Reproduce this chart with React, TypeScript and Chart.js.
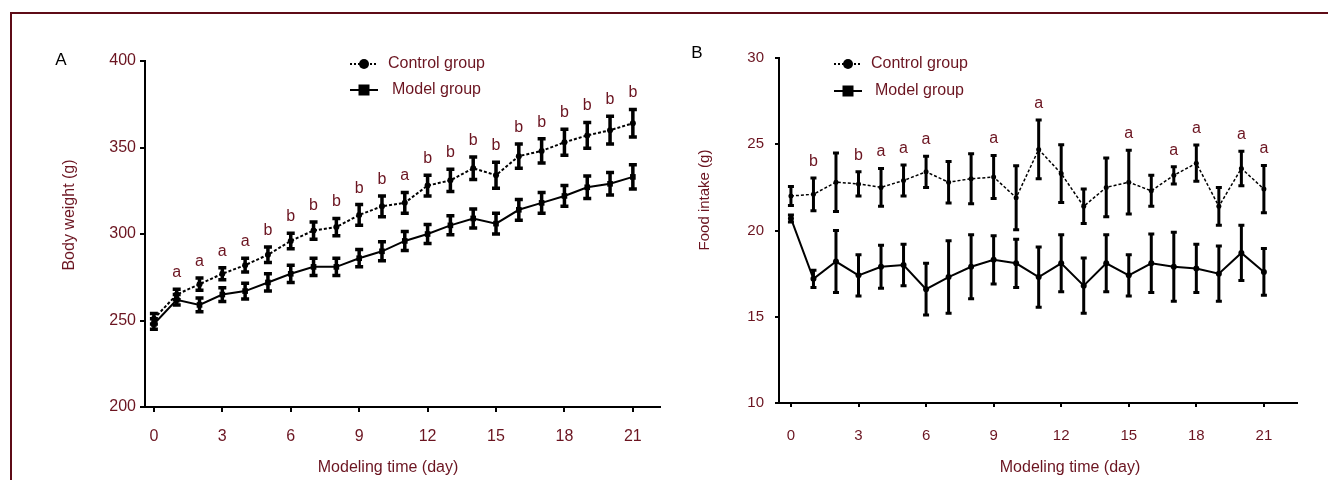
import React, { useEffect, useRef } from "react";
import { Chart, registerables } from "chart.js";

Chart.register(...registerables);

const MAROON = "#6b1420";
const FONT = "'Liberation Sans', Arial, sans-serif";

// ---------- data ----------
const days = [0, 1, 2, 3, 4, 5, 6, 7, 8, 9, 10, 11, 12, 13, 14, 15, 16, 17, 18, 19, 20, 21];
const dayTicks = [0, 3, 6, 9, 12, 15, 18, 21];

const weightTicks = [200, 250, 300, 350, 400];
const weightControl = [251, 265, 271, 277, 282, 288, 296, 302, 304, 311, 316, 318, 328, 331, 338, 334, 345, 348, 353, 357, 360, 364];
const weightControlErr = [3, 3, 3.5, 3.5, 4, 4.5, 4.5, 5, 5, 6, 6, 6, 6, 6.5, 6.5, 7.5, 7, 7, 7.5, 7.5, 8, 8];
const weightModel = [248, 262, 259, 265, 267, 272, 277, 281, 281, 286, 290, 296, 300, 305, 309, 306, 314, 318, 322, 327, 329, 333];
const weightModelErr = [3, 3, 4, 4, 4.5, 5, 5, 5, 5, 5, 5.5, 5.5, 5.5, 5.5, 5.5, 6, 6, 6, 6, 6.5, 6.5, 7];
const weightLetters = ["", "a", "a", "a", "a", "b", "b", "b", "b", "b", "b", "a", "b", "b", "b", "b", "b", "b", "b", "b", "b", "b"];

const intakeTicks = [10, 15, 20, 25, 30];
const intakeControl = [22.0, 22.1, 22.8, 22.7, 22.5, 22.9, 23.4, 22.8, 23.0, 23.1, 21.9, 24.7, 23.3, 21.4, 22.5, 22.8, 22.3, 23.2, 23.9, 21.4, 23.6, 22.4];
const intakeControlErr = [0.55, 0.95, 1.7, 0.7, 1.1, 0.9, 0.9, 1.2, 1.45, 1.25, 1.85, 1.7, 1.67, 1.0, 1.7, 1.85, 0.9, 0.5, 1.05, 1.1, 1.0, 1.37];
const intakeModel = [20.7, 17.2, 18.2, 17.4, 17.9, 18.0, 16.6, 17.3, 17.9, 18.3, 18.1, 17.3, 18.1, 16.8, 18.1, 17.4, 18.1, 17.9, 17.8, 17.5, 18.7, 17.6];
const intakeModelErr = [0.2, 0.5, 1.8, 1.2, 1.25, 1.2, 1.5, 2.1, 1.85, 1.4, 1.4, 1.75, 1.65, 1.6, 1.65, 1.2, 1.7, 2.0, 1.4, 1.6, 1.6, 1.35];
const intakeLetters = ["", "b", "", "b", "a", "a", "a", "", "", "a", "", "a", "", "", "", "a", "", "a", "a", "", "a", "a"];

const legendLabels = ["Control group", "Model group"];

type Panel = {
  width: number;
  height: number;
  left: number;
  panelLabel: string;
  yTitle: string;
  xTitle: string;
  control: number[];
  controlErr: number[];
  model: number[];
  modelErr: number[];
  letters: string[];
  yTicks: number[];
  xMin: number;
  xMax: number;
  pad: { left: number; top: number; right: number; bottom: number };
  yWidth: number;
  xHeight: number;
  tickFont: number;
  yTickPad: number;
  xTickPad: number;
  tickLen: number;
  controlPoint: number;
  modelPoint: number;
  modelStyle: string;
  dashWidth: number;
  cap: number;
  barWidth: number;
  yTitleSize: number;
  labelPos: [number, number];
  yTitlePos: [number, number];
  xTitlePos: [number, number];
  legendMarkerX: number;
  legendY: [number, number];
  legendTextX: [number, number];
};

function makePlugin(p: Panel) {
  return {
    id: "extras",
    afterDatasetsDraw(chart: any) {
      const ctx = chart.ctx;
      const xs = chart.scales.x;
      const ys = chart.scales.y;
      ctx.save();
      const series: [number[], number[]][] = [
        [p.model, p.modelErr],
        [p.control, p.controlErr],
      ];
      ctx.strokeStyle = "#000";
      ctx.lineWidth = p.barWidth;
      ctx.setLineDash([]);
      series.forEach(([vals, errs]) => {
        vals.forEach((v, i) => {
          const x = xs.getPixelForValue(days[i]);
          const t = ys.getPixelForValue(v + errs[i]);
          const b = ys.getPixelForValue(v - errs[i]);
          ctx.beginPath();
          ctx.moveTo(x, t);
          ctx.lineTo(x, b);
          ctx.moveTo(x - p.cap, t);
          ctx.lineTo(x + p.cap, t);
          ctx.moveTo(x - p.cap, b);
          ctx.lineTo(x + p.cap, b);
          ctx.stroke();
        });
      });
      ctx.fillStyle = MAROON;
      ctx.font = `16px ${FONT}`;
      ctx.textAlign = "center";
      ctx.textBaseline = "alphabetic";
      p.letters.forEach((L, i) => {
        if (!L) return;
        const x = xs.getPixelForValue(days[i]);
        const t = ys.getPixelForValue(p.control[i] + p.controlErr[i]);
        ctx.fillText(L, x, t - 12);
      });
      ctx.restore();
    },
    afterDraw(chart: any) {
      const ctx = chart.ctx;
      ctx.save();
      ctx.fillStyle = "#000";
      ctx.font = `17px ${FONT}`;
      ctx.textAlign = "center";
      ctx.textBaseline = "middle";
      ctx.fillText(p.panelLabel, p.labelPos[0], p.labelPos[1]);
      ctx.fillStyle = MAROON;
      ctx.font = `16px ${FONT}`;
      ctx.fillText(p.xTitle, p.xTitlePos[0], p.xTitlePos[1]);
      ctx.save();
      ctx.font = `${p.yTitleSize}px ${FONT}`;
      ctx.translate(p.yTitlePos[0], p.yTitlePos[1]);
      ctx.rotate(-Math.PI / 2);
      ctx.fillText(p.yTitle, 0, 0);
      ctx.restore();
      const mx = p.legendMarkerX;
      ctx.strokeStyle = "#000";
      ctx.fillStyle = "#000";
      ctx.lineWidth = 2;
      ctx.setLineDash([2, 2]);
      ctx.beginPath();
      ctx.moveTo(mx - 14, p.legendY[0]);
      ctx.lineTo(mx + 14, p.legendY[0]);
      ctx.stroke();
      ctx.setLineDash([]);
      ctx.beginPath();
      ctx.arc(mx, p.legendY[0], 5, 0, Math.PI * 2);
      ctx.fill();
      ctx.beginPath();
      ctx.moveTo(mx - 14, p.legendY[1]);
      ctx.lineTo(mx + 14, p.legendY[1]);
      ctx.stroke();
      ctx.fillRect(mx - 5.5, p.legendY[1] - 5.5, 11, 11);
      ctx.fillStyle = MAROON;
      ctx.font = `16px ${FONT}`;
      ctx.textAlign = "left";
      ctx.fillText(legendLabels[0], p.legendTextX[0], p.legendY[0]);
      ctx.fillText(legendLabels[1], p.legendTextX[1], p.legendY[1]);
      ctx.restore();
    },
  };
}

function PanelChart({ p }: { p: Panel }) {
  const ref = useRef<HTMLCanvasElement | null>(null);
  useEffect(() => {
    if (!ref.current) return;
    const chart = new Chart(ref.current, {
      type: "line",
      data: {
        datasets: [
          {
            label: legendLabels[1],
            data: p.model.map((v, i) => ({ x: days[i], y: v })),
            borderColor: "#000",
            backgroundColor: "#000",
            borderWidth: 2,
            pointStyle: p.modelStyle as any,
            pointRadius: p.modelPoint,
            pointBorderWidth: 0,
          },
          {
            label: legendLabels[0],
            data: p.control.map((v, i) => ({ x: days[i], y: v })),
            borderColor: "#000",
            backgroundColor: "#000",
            borderWidth: p.dashWidth,
            borderDash: [3, 2],
            pointStyle: "circle",
            pointRadius: p.controlPoint,
            pointBorderWidth: 0,
          },
        ],
      },
      options: {
        responsive: false,
        animation: false,
        events: [],
        layout: { padding: p.pad },
        plugins: { legend: { display: false }, tooltip: { enabled: false }, title: { display: false } },
        scales: {
          x: {
            type: "linear",
            min: p.xMin,
            max: p.xMax,
            afterBuildTicks: (s: any) => {
              s.ticks = dayTicks.map((v) => ({ value: v }));
            },
            afterFit: (s: any) => {
              s.height = p.xHeight;
            },
            grid: { drawOnChartArea: false, drawTicks: true, tickLength: p.tickLen, color: "#000", lineWidth: 2 },
            border: { display: true, color: "#000", width: 2 },
            ticks: { color: MAROON, padding: p.xTickPad, font: { size: p.tickFont, family: FONT }, maxRotation: 0, autoSkip: false },
          },
          y: {
            type: "linear",
            min: p.yTicks[0],
            max: p.yTicks[p.yTicks.length - 1],
            afterBuildTicks: (s: any) => {
              s.ticks = p.yTicks.map((v) => ({ value: v }));
            },
            afterFit: (s: any) => {
              s.width = p.yWidth;
            },
            grid: { drawOnChartArea: false, drawTicks: true, tickLength: p.tickLen, color: "#000", lineWidth: 2 },
            border: { display: true, color: "#000", width: 2 },
            ticks: { color: MAROON, padding: p.yTickPad, font: { size: p.tickFont, family: FONT }, autoSkip: false },
          },
        },
      },
      plugins: [makePlugin(p)],
    });
    return () => chart.destroy();
  }, [p]);
  return (
    <canvas
      ref={ref}
      width={p.width}
      height={p.height}
      style={{ position: "absolute", left: p.left, top: 0, width: p.width, height: p.height }}
    />
  );
}

const panelA: Panel = {
  width: 670,
  height: 480,
  left: 0,
  panelLabel: "A",
  yTitle: "Body weight (g)",
  xTitle: "Modeling time (day)",
  control: weightControl,
  controlErr: weightControlErr,
  model: weightModel,
  modelErr: weightModelErr,
  letters: weightLetters,
  yTicks: weightTicks,
  xMin: -0.39,
  xMax: 22.19,
  pad: { left: 0, top: 61, right: 10, bottom: 0 },
  yWidth: 145,
  xHeight: 73,
  tickFont: 16,
  yTickPad: 4,
  xTickPad: 15,
  tickLen: 5,
  controlPoint: 3,
  modelPoint: 4,
  modelStyle: "rect",
  dashWidth: 2,
  cap: 4,
  barWidth: 3.5,
  yTitleSize: 16,
  labelPos: [61, 60],
  yTitlePos: [70, 215],
  xTitlePos: [388, 468],
  legendMarkerX: 364,
  legendY: [64, 90],
  legendTextX: [388, 392],
};

const panelB: Panel = {
  width: 658,
  height: 480,
  left: 670,
  panelLabel: "B",
  yTitle: "Food intake (g)",
  xTitle: "Modeling time (day)",
  control: intakeControl,
  controlErr: intakeControlErr,
  model: intakeModel,
  modelErr: intakeModelErr,
  letters: intakeLetters,
  yTicks: intakeTicks,
  xMin: -0.53,
  xMax: 22.47,
  pad: { left: 0, top: 58, right: 31, bottom: 0 },
  yWidth: 109,
  xHeight: 77,
  tickFont: 15,
  yTickPad: 11,
  xTickPad: 20,
  tickLen: 4,
  controlPoint: 2.5,
  modelPoint: 3,
  modelStyle: "circle",
  dashWidth: 1.5,
  cap: 3,
  barWidth: 3,
  yTitleSize: 15,
  labelPos: [27, 53],
  yTitlePos: [35, 200],
  xTitlePos: [400, 468],
  legendMarkerX: 178,
  legendY: [64, 91],
  legendTextX: [201, 205],
};

export default function App() {
  return (
    <div
      style={{
        position: "fixed",
        left: 0,
        top: 0,
        width: 1328,
        height: 480,
        overflow: "hidden",
        background: "#fff",
      }}
    >
      <div
        style={{
          position: "absolute",
          left: 10,
          top: 12,
          width: 1400,
          height: 600,
          border: "2px solid #5e0b16",
        }}
      />
      <PanelChart p={panelA} />
      <PanelChart p={panelB} />
    </div>
  );
}
